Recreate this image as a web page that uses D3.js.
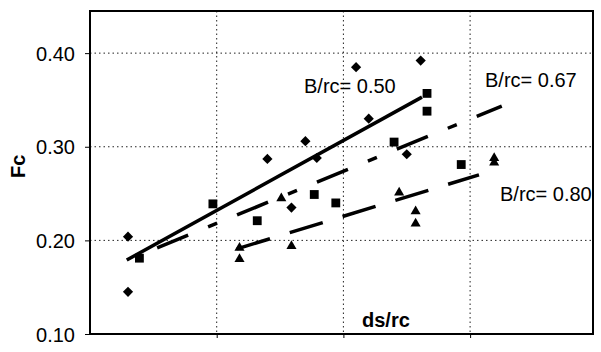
<!DOCTYPE html>
<html>
<head>
<meta charset="utf-8">
<script src="https://cdn.jsdelivr.net/npm/d3@7/dist/d3.min.js"></script>
<style>
  html, body { margin: 0; padding: 0; background: #fff; }
  svg { display: block; }
  text { font-family: "Liberation Sans", Arial, sans-serif; fill: #000; }
</style>
</head>
<body>
<svg id="chart" width="601" height="352"></svg>
<script>
// Measured friction coefficient Fc against ds/rc for three B/rc ratios
const yTicks = [0.10, 0.20, 0.30, 0.40];
const xGrid = [1, 2, 3];

// B/rc = 0.50 (diamonds)
const dsrc050 = [0.30, 0.30, 1.40, 1.70, 1.79, 1.59, 2.10, 2.20, 2.61, 2.50];
const fc050   = [0.204, 0.145, 0.287, 0.306, 0.288, 0.235, 0.385, 0.330, 0.392, 0.292];

// B/rc = 0.67 (squares)
const dsrc067 = [0.39, 0.97, 1.32, 1.77, 1.94, 2.40, 2.66, 2.66, 2.93];
const fc067   = [0.181, 0.239, 0.221, 0.249, 0.240, 0.305, 0.357, 0.338, 0.281];

// B/rc = 0.80 (triangles)
const dsrc080 = [1.18, 1.18, 1.51, 1.59, 2.44, 2.57, 2.57, 3.19, 3.19];
const fc080   = [0.192, 0.180, 0.245, 0.194, 0.251, 0.231, 0.218, 0.288, 0.283];

// Trend lines: [start, end]
const trendX050 = [0.29, 2.62], trendY050 = [0.179, 0.353];
const trendX067 = [0.53, 3.25], trendY067 = [0.192, 0.3435];
const trendX080 = [1.16, 3.07], trendY080 = [0.191, 0.270];

const labels = ["B/rc= 0.50", "B/rc= 0.67", "B/rc= 0.80"];

const svg = d3.select("#chart");
const plotL = 90, plotR = 593, plotT = 11, plotB = 334;

const x = d3.scaleLinear().domain([0, 3.97]).range([plotL, plotR]);
const y = d3.scaleLinear().domain([0.10, 0.445]).range([plotB, plotT]);

// dotted grid
const grid = svg.append("g").attr("stroke", "#222").attr("stroke-width", 1)
  .attr("stroke-dasharray", "1.5,3");
grid.selectAll("line.h").data(yTicks.filter(v => v > 0.1)).join("line")
  .attr("x1", plotL).attr("x2", plotR)
  .attr("y1", d => y(d)).attr("y2", d => y(d));
grid.selectAll("line.v").data(xGrid).join("line")
  .attr("x1", d => x(d)).attr("x2", d => x(d))
  .attr("y1", plotT).attr("y2", plotB);

// plot frame
svg.append("rect").attr("x", plotL).attr("y", plotT)
  .attr("width", plotR - plotL).attr("height", plotB - plotT)
  .attr("fill", "none").attr("stroke", "#000").attr("stroke-width", 2);

// y axis
const yAxis = d3.axisLeft(y).tickValues(yTicks).tickFormat(d3.format(".2f"))
  .tickSize(5).tickPadding(10);
const gy = svg.append("g").attr("transform", `translate(${plotL},0)`).call(yAxis);
gy.select(".domain").remove();
gy.selectAll("text").style("font-size", "20px").attr("dy", "0.35em");

// x axis ticks (no labels)
const xAxis = d3.axisBottom(x).tickValues(xGrid).tickFormat("").tickSize(4);
const gx = svg.append("g").attr("transform", `translate(0,${plotB})`).call(xAxis);
gx.select(".domain").remove();

// axis titles
svg.append("text").attr("transform", "translate(25,178) rotate(-90)")
  .style("font-size", "20px").style("font-weight", "bold").text("Fc");
svg.append("text").attr("x", 362).attr("y", 327)
  .style("font-size", "20px").style("font-weight", "bold").text("ds/rc");

// trend lines
const trends = [
  { xs: trendX050, ys: trendY050, dash: null },
  { xs: trendX067, ys: trendY067, dash: "33.5,21.6,9.7,21.6" },
  { xs: trendX080, ys: trendY080, dash: "34.5,20.7" }
];
svg.append("g").selectAll("line").data(trends).join("line")
  .attr("x1", d => x(d.xs[0])).attr("y1", d => y(d.ys[0]))
  .attr("x2", d => x(d.xs[1])).attr("y2", d => y(d.ys[1]))
  .attr("stroke", "#000").attr("stroke-width", 3.5)
  .attr("stroke-dasharray", d => d.dash);

// markers
const pts = (xs, ys) => xs.map((v, i) => [v, ys[i]]);
const mk = svg.append("g").attr("fill", "#000");
mk.selectAll("path.d").data(pts(dsrc050, fc050)).join("path")
  .attr("d", d3.symbol(d3.symbolSquare, 52)())
  .attr("transform", d => `translate(${x(d[0])},${y(d[1])}) rotate(45)`);
mk.selectAll("path.s").data(pts(dsrc067, fc067)).join("path")
  .attr("d", d3.symbol(d3.symbolSquare, 78)())
  .attr("transform", d => `translate(${x(d[0])},${y(d[1])})`);
mk.selectAll("path.t").data(pts(dsrc080, fc080)).join("path")
  .attr("d", d3.symbol(d3.symbolTriangle, 44)())
  .attr("transform", d => `translate(${x(d[0])},${y(d[1])})`);

// series labels
const labelPos = [[304, 93], [485, 87], [500, 201]];
svg.append("g").selectAll("text").data(labels).join("text")
  .attr("x", (d, i) => labelPos[i][0]).attr("y", (d, i) => labelPos[i][1])
  .style("font-size", "20px").text(d => d);
</script>
</body>
</html>
